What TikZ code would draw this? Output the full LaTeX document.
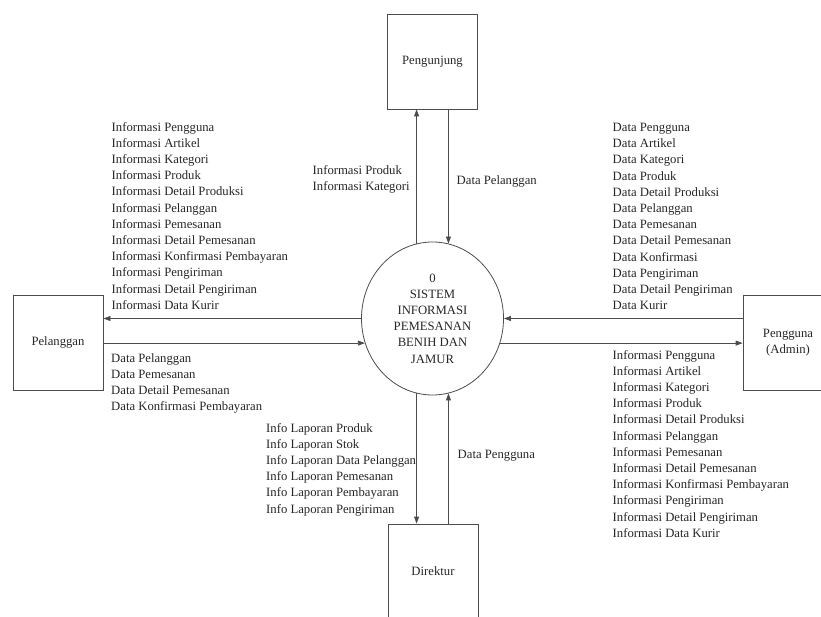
\documentclass[tikz,border=0pt]{standalone}
\usepackage{fontspec}
\setmainfont{Liberation Serif}
\usetikzlibrary{shapes.geometric,arrows.meta}
\tikzset{
	entitas/.style={draw=black!70, line width=0.8pt, minimum width=90pt, minimum height=95pt, inner sep=0pt, align=center},
	proses/.style={ellipse, draw=black!70, line width=0.8pt, minimum width=142pt, minimum height=153pt, inner sep=0pt, align=center},
	aliran/.style={draw=black!70, line width=0.8pt, -{Triangle[length=7pt,width=5pt]}},
	ket/.style={anchor=north west, inner sep=0pt, align=left}
}
\begin{document}
\begin{tikzpicture}[x=1pt, y=-1pt, font=\fontsize{12.7}{16.2}\selectfont, text=black!85]
			\useasboundingbox (0,0) rectangle (821,617);
			\node[proses] (sis) at (432.5,318.5) {0\\SISTEM\\INFORMASI\\PEMESANAN\\BENIH DAN\\JAMUR};
			\node[entitas] (pgj) at (432.5,61.5) {Pengunjung};
			\node[entitas] (pel) at (58,342.5) {Pelanggan};
			\node[entitas] (pgn) at (788,342.5) {Pengguna\\(Admin)};
			\node[entitas] (dir) at (433,571.5) {Direktur};
			\draw[aliran] (sis.102) -- (sis.102 |- pgj.south);
			\draw[aliran] (pgj.south -| sis.78) -- (sis.78);
			\draw[aliran] (sis.west) -- (sis.west -| pel.east);
			\draw[aliran] (pel.east |- sis.200) -- (sis.200);
			\draw[aliran] (sis.east -| pgn.west) -- (sis.east);
			\draw[aliran] (sis.340) -- (sis.340 -| pgn.west);
			\draw[aliran] (sis.258) -- (sis.258 |- dir.north);
			\draw[aliran] (dir.north -| sis.282) -- (sis.282);
			\node[ket] (kPgjIn) at (312.5,165) {Informasi Produk\\Informasi Kategori};
			\node[ket] (kPgjOut) at (456.5,175) {Data Pelanggan};
			\node[ket] (kPelIn) at (111.5,122) {Informasi Pengguna\\Informasi Artikel\\Informasi Kategori\\Informasi Produk\\Informasi Detail Produksi\\Informasi Pelanggan\\Informasi Pemesanan\\Informasi Detail Pemesanan\\Informasi Konfirmasi Pembayaran\\Informasi Pengiriman\\Informasi Detail Pengiriman\\Informasi Data Kurir};
			\node[ket] (kPelOut) at (111,353) {Data Pelanggan\\Data Pemesanan\\Data Detail Pemesanan\\Data Konfirmasi Pembayaran};
			\node[ket] (kPgnOut) at (612.5,123) {Data Pengguna\\Data Artikel\\Data Kategori\\Data Produk\\Data Detail Produksi\\Data Pelanggan\\Data Pemesanan\\Data Detail Pemesanan\\Data Konfirmasi\\Data Pengiriman\\Data Detail Pengiriman\\Data Kurir};
			\node[ket] (kPgnIn) at (612.5,350) {Informasi Pengguna\\Informasi Artikel\\Informasi Kategori\\Informasi Produk\\Informasi Detail Produksi\\Informasi Pelanggan\\Informasi Pemesanan\\Informasi Detail Pemesanan\\Informasi Konfirmasi Pembayaran\\Informasi Pengiriman\\Informasi Detail Pengiriman\\Informasi Data Kurir};
			\node[ket] (kDirIn) at (266,423) {Info Laporan Produk\\Info Laporan Stok\\Info Laporan Data Pelanggan\\Info Laporan Pemesanan\\Info Laporan Pembayaran\\Info Laporan Pengiriman};
			\node[ket] (kDirOut) at (457.5,450) {Data Pengguna};
		\end{tikzpicture}
\end{document}
